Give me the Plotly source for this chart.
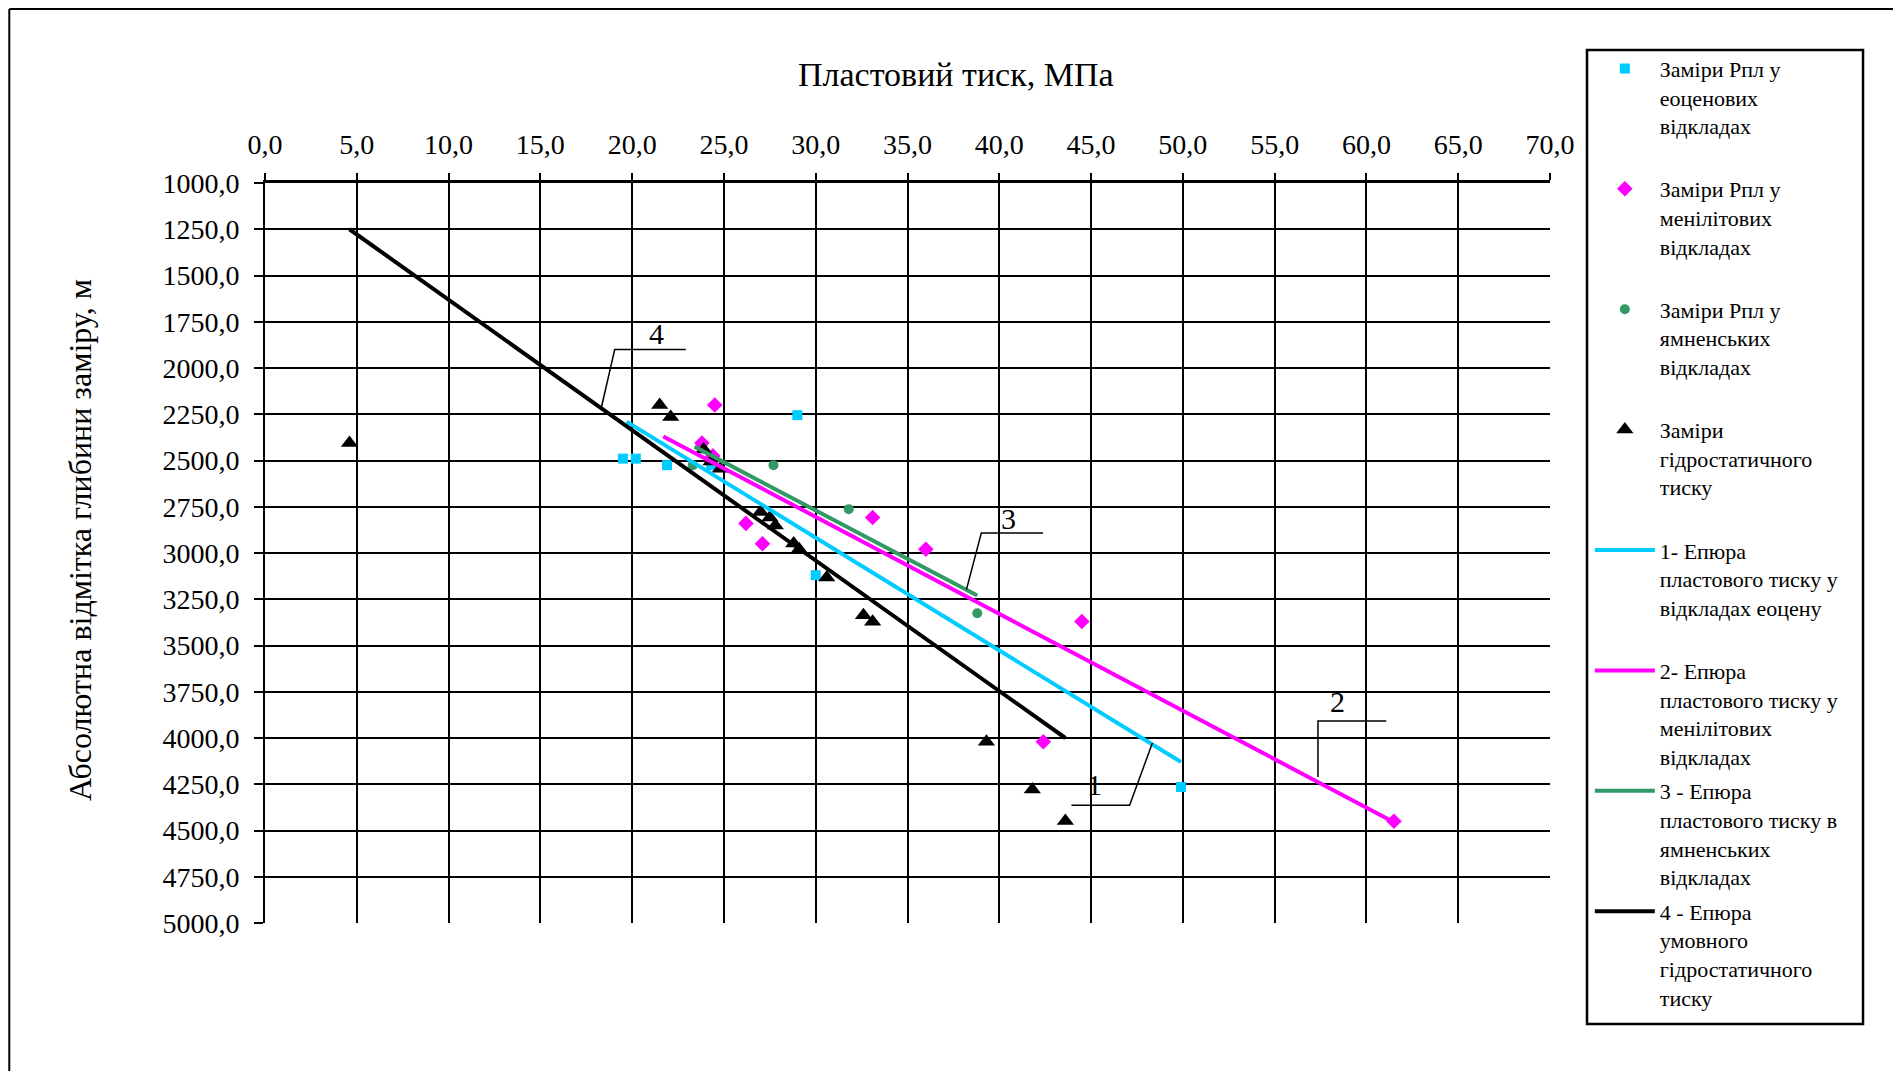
import plotly.graph_objects as go

# ---------------- data ----------------
# Measurements: reservoir pressure (MPa) vs absolute depth mark (m)
eocene_p = [19.5, 20.2, 21.9, 24.3, 24.3, 29.0, 30.0, 49.9]
eocene_h = [2490, 2490, 2525, 2505, 2525, 2255, 3120, 4265]

menilite_p = [24.5, 23.8, 24.4, 26.2, 27.1, 33.1, 36.0, 44.5, 42.4, 61.5]
menilite_h = [2200, 2405, 2475, 2840, 2950, 2808, 2980, 3370, 4020, 4450]

yamna_p = [23.3, 27.7, 31.8, 38.8]
yamna_h = [2525, 2525, 2763, 3326]

hydro_p = [4.6, 21.5, 22.1, 23.9, 24.3, 24.8, 27.0, 27.5, 27.8, 28.8, 29.1,
           30.6, 32.6, 33.1, 39.3, 41.8, 43.6]
hydro_h = [2405, 2200, 2265, 2440, 2505, 2545, 2778, 2808, 2852, 2948, 2980,
           3132, 3337, 3372, 4020, 4278, 4448]

# Pressure profiles (epures): end points
line1_p = [19.7, 49.9]
line1_h = [2290, 4130]
line2_p = [21.7, 61.4]
line2_h = [2370, 4450]
line3_p = [23.4, 38.8]
line3_h = [2425, 3230]
line4_p = [4.6, 43.6]
line4_h = [1250, 4000]

x_ticks = [0, 5, 10, 15, 20, 25, 30, 35, 40, 45, 50, 55, 60, 65, 70]
y_ticks = [1000, 1250, 1500, 1750, 2000, 2250, 2500, 2750, 3000, 3250, 3500,
           3750, 4000, 4250, 4500, 4750, 5000]

names = [
    "Заміри Рпл у<br>еоценових<br>відкладах<br> ",
    "Заміри Рпл у<br>менілітових<br>відкладах<br> ",
    "Заміри Рпл у<br>ямненських<br>відкладах<br> ",
    "Заміри<br>гідростатичного<br>тиску<br> ",
    "1- Епюра<br>пластового тиску у<br>відкладах еоцену<br> ",
    "2- Епюра<br>пластового тиску у<br>менілітових<br>відкладах",
    "3 - Епюра<br>пластового тиску в<br>ямненських<br>відкладах",
    "4 - Епюра<br>умовного<br>гідростатичного<br>тиску",
]

CYAN = "#00CCFF"
MAG = "#FF00FF"
GREEN = "#339966"
BLACK = "#000000"
FONT = "Liberation Serif"

fig = go.Figure()
fig.add_trace(go.Scatter(x=eocene_p, y=eocene_h, mode="markers", name=names[0],
                         legendgroup="g1",
                         marker=dict(symbol="square", size=10, color=CYAN)))
fig.add_trace(go.Scatter(x=menilite_p, y=menilite_h, mode="markers", name=names[1],
                         legendgroup="g2",
                         marker=dict(symbol="diamond", size=12, color=MAG)))
fig.add_trace(go.Scatter(x=yamna_p, y=yamna_h, mode="markers", name=names[2],
                         legendgroup="g3",
                         marker=dict(symbol="circle", size=10, color=GREEN)))
fig.add_trace(go.Scatter(x=hydro_p, y=hydro_h, mode="markers", name=names[3],
                         legendgroup="g4",
                         marker=dict(symbol="triangle-up", size=15, color=BLACK)))
fig.add_trace(go.Scatter(x=line1_p, y=line1_h, mode="lines", name=names[4],
                         legendgroup="g5", line=dict(color=CYAN, width=4)))
fig.add_trace(go.Scatter(x=line2_p, y=line2_h, mode="lines", name=names[5],
                         legendgroup="g6", line=dict(color=MAG, width=4)))
fig.add_trace(go.Scatter(x=line3_p, y=line3_h, mode="lines", name=names[6],
                         legendgroup="g7", line=dict(color=GREEN, width=4)))
fig.add_trace(go.Scatter(x=line4_p, y=line4_h, mode="lines", name=names[7],
                         legendgroup="g8", line=dict(color=BLACK, width=4)))

# leader lines for curve labels (data coordinates)
leaders = [
    ([48.34, 47.1, 43.93], [4027, 4364, 4364], "1", 45.2, 4250),
    ([57.36, 57.36, 61.08], [4211, 3908, 3908], "2", 58.4, 3800),
    ([38.21, 39.02, 42.38], [3198, 2892, 2892], "3", 40.5, 2814),
    ([18.33, 19.05, 22.92], [2211, 1900, 1900], "4", 21.3, 1811),
]
shapes = []
annotations = []
for xs, ys, lab, lx, ly in leaders:
    path = "M {} {} L {} {} L {} {}".format(xs[0], ys[0], xs[1], ys[1], xs[2], ys[2])
    shapes.append(dict(type="path", xref="x", yref="y", path=path,
                       line=dict(color="black", width=1.5)))
    annotations.append(dict(x=lx, y=ly, xref="x", yref="y", text=lab, showarrow=False,
                            font=dict(family=FONT, size=30, color="black")))

# legend frame and outer frame (paper coordinates)
shapes.append(dict(type="rect", xref="paper", yref="paper",
                   x0=1.0288, x1=1.2436, y0=-0.1365, y1=1.1797,
                   line=dict(color="black", width=2.5)))
shapes.append(dict(type="line", xref="paper", yref="paper",
                   x0=-0.199, x1=1.3, y0=1.2350, y1=1.2350,
                   line=dict(color="black", width=2)))
shapes.append(dict(type="line", xref="paper", yref="paper",
                   x0=-0.199, x1=-0.199, y0=-0.3, y1=1.2350,
                   line=dict(color="black", width=2)))

annotations.append(dict(x=0.5374, y=1.147, xref="paper", yref="paper",
                        text="Пластовий тиск, МПа", showarrow=False,
                        xanchor="center", yanchor="middle",
                        font=dict(family=FONT, size=34, color="black")))
annotations.append(dict(x=-0.144, y=0.5176, xref="paper", yref="paper",
                        text="Абсолютна відмітка глибини заміру, м", showarrow=False,
                        textangle=-90, xanchor="center", yanchor="middle",
                        font=dict(family=FONT, size=32, color="black")))

fig.update_layout(
    width=1885, height=1063,
    margin=dict(l=257, r=343, t=175, b=148),
    paper_bgcolor="white", plot_bgcolor="white",
    separators=",.",
    font=dict(family=FONT, color="black"),
    showlegend=True,
    legend=dict(x=1.031, y=1.183, xanchor="left", yanchor="top",
                bgcolor="rgba(0,0,0,0)", borderwidth=0,
                font=dict(family=FONT, size=22, color="black"),
                valign="top", itemwidth=60, tracegroupgap=3,
                maxheight=1040),
    shapes=shapes,
    annotations=annotations,
)
fig.update_xaxes(
    side="top", range=[0, 70], tickvals=x_ticks, tickformat=".1f",
    showgrid=True, gridcolor="black", gridwidth=2,
    showline=True, linecolor="black", linewidth=3, mirror=False,
    ticks="outside", ticklen=7, tickwidth=2, tickcolor="black",
    tickfont=dict(family=FONT, size=28, color="black"),
    ticklabelstandoff=8, zeroline=False,
)
fig.update_yaxes(
    range=[5000, 1000], tickvals=y_ticks, tickformat=".1f",
    showgrid=True, gridcolor="black", gridwidth=2,
    showline=True, linecolor="black", linewidth=2,
    ticks="outside", ticklen=9, tickwidth=2, tickcolor="black",
    tickfont=dict(family=FONT, size=28, color="black"),
    ticklabelstandoff=9, zeroline=False,
)

fig.write_html("out.html")
